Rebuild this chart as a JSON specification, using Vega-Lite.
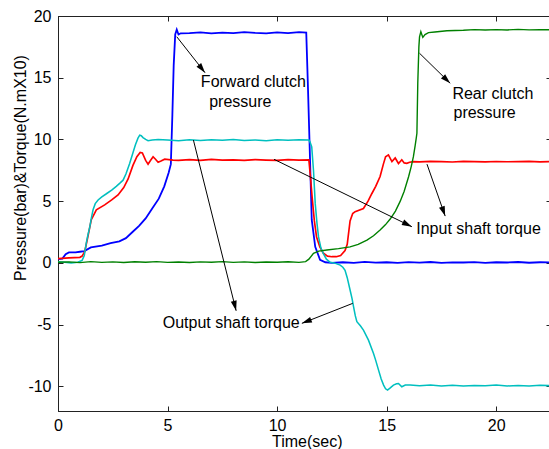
{
  "$schema": "https://vega.github.io/schema/vega-lite/v6.json",
  "width": 493,
  "height": 395,
  "autosize": "none",
  "padding": {"left": 58, "top": 16, "right": 0, "bottom": 38},
  "background": "white",
  "config": {
    "view": {"stroke": "#222", "strokeWidth": 1},
    "font": "Liberation Sans",
    "axis": {
      "grid": false,
      "domainColor": "#222",
      "tickColor": "#222",
      "domainWidth": 1,
      "tickWidth": 1,
      "tickSize": -5,
      "labelPadding": 12,
      "labelFlush": false,
      "labelFont": "Liberation Sans",
      "labelFontSize": 16,
      "labelColor": "#000",
      "labelExpr": "datum.value < 0 ? '-' + abs(datum.value) : '' + datum.value",
      "titleFont": "Liberation Sans",
      "titleFontSize": 16,
      "titleFontWeight": "normal",
      "titleColor": "#000"
    }
  },
  "datasets": {
    "curves": [
      {"s": "Forward clutch pressure", "t": 0, "v": 0.3},
      {"s": "Forward clutch pressure", "t": 0.2, "v": 0.35},
      {"s": "Forward clutch pressure", "t": 0.35, "v": 0.7},
      {"s": "Forward clutch pressure", "t": 0.5, "v": 0.85},
      {"s": "Forward clutch pressure", "t": 0.8, "v": 0.85},
      {"s": "Forward clutch pressure", "t": 1.0, "v": 0.9},
      {"s": "Forward clutch pressure", "t": 1.2, "v": 0.95},
      {"s": "Forward clutch pressure", "t": 1.5, "v": 1.25},
      {"s": "Forward clutch pressure", "t": 2.0, "v": 1.4},
      {"s": "Forward clutch pressure", "t": 2.4, "v": 1.6},
      {"s": "Forward clutch pressure", "t": 2.8, "v": 1.75},
      {"s": "Forward clutch pressure", "t": 3.1, "v": 2.0},
      {"s": "Forward clutch pressure", "t": 3.4, "v": 2.5},
      {"s": "Forward clutch pressure", "t": 3.7, "v": 3.0},
      {"s": "Forward clutch pressure", "t": 4.0, "v": 3.6},
      {"s": "Forward clutch pressure", "t": 4.3, "v": 4.4},
      {"s": "Forward clutch pressure", "t": 4.6, "v": 5.2},
      {"s": "Forward clutch pressure", "t": 4.85, "v": 6.2},
      {"s": "Forward clutch pressure", "t": 5.05, "v": 7.3},
      {"s": "Forward clutch pressure", "t": 5.15, "v": 8.0},
      {"s": "Forward clutch pressure", "t": 5.22, "v": 12},
      {"s": "Forward clutch pressure", "t": 5.28, "v": 16},
      {"s": "Forward clutch pressure", "t": 5.35, "v": 18.5},
      {"s": "Forward clutch pressure", "t": 5.42, "v": 18.9},
      {"s": "Forward clutch pressure", "t": 5.5, "v": 18.5},
      {"s": "Forward clutch pressure", "t": 5.6, "v": 18.6},
      {"s": "Forward clutch pressure", "t": 6.0, "v": 18.62},
      {"s": "Forward clutch pressure", "t": 6.5, "v": 18.68},
      {"s": "Forward clutch pressure", "t": 7.0, "v": 18.6},
      {"s": "Forward clutch pressure", "t": 7.5, "v": 18.66},
      {"s": "Forward clutch pressure", "t": 8.0, "v": 18.62},
      {"s": "Forward clutch pressure", "t": 8.5, "v": 18.7},
      {"s": "Forward clutch pressure", "t": 9.0, "v": 18.64},
      {"s": "Forward clutch pressure", "t": 9.5, "v": 18.6},
      {"s": "Forward clutch pressure", "t": 10.0, "v": 18.68},
      {"s": "Forward clutch pressure", "t": 10.5, "v": 18.62},
      {"s": "Forward clutch pressure", "t": 11.0, "v": 18.7},
      {"s": "Forward clutch pressure", "t": 11.33, "v": 18.65},
      {"s": "Forward clutch pressure", "t": 11.4, "v": 14.7},
      {"s": "Forward clutch pressure", "t": 11.5, "v": 8.5},
      {"s": "Forward clutch pressure", "t": 11.58, "v": 3.5},
      {"s": "Forward clutch pressure", "t": 11.74, "v": 1.3},
      {"s": "Forward clutch pressure", "t": 11.96, "v": 0.25},
      {"s": "Forward clutch pressure", "t": 12.2, "v": 0.05},
      {"s": "Forward clutch pressure", "t": 12.5, "v": 0.0},
      {"s": "Forward clutch pressure", "t": 13, "v": 0.05},
      {"s": "Forward clutch pressure", "t": 13.5, "v": 0.0},
      {"s": "Forward clutch pressure", "t": 14, "v": 0.08},
      {"s": "Forward clutch pressure", "t": 14.5, "v": 0.02},
      {"s": "Forward clutch pressure", "t": 15, "v": 0.05},
      {"s": "Forward clutch pressure", "t": 15.5, "v": 0.0},
      {"s": "Forward clutch pressure", "t": 16, "v": 0.06},
      {"s": "Forward clutch pressure", "t": 16.5, "v": 0.02},
      {"s": "Forward clutch pressure", "t": 17, "v": 0.07},
      {"s": "Forward clutch pressure", "t": 17.5, "v": 0.0},
      {"s": "Forward clutch pressure", "t": 18, "v": 0.04},
      {"s": "Forward clutch pressure", "t": 18.5, "v": 0.03},
      {"s": "Forward clutch pressure", "t": 19, "v": 0.06},
      {"s": "Forward clutch pressure", "t": 19.5, "v": 0.0},
      {"s": "Forward clutch pressure", "t": 20, "v": 0.05},
      {"s": "Forward clutch pressure", "t": 20.5, "v": 0.03},
      {"s": "Forward clutch pressure", "t": 21, "v": 0.07},
      {"s": "Forward clutch pressure", "t": 21.5, "v": 0.01},
      {"s": "Forward clutch pressure", "t": 22, "v": 0.05},
      {"s": "Forward clutch pressure", "t": 22.5, "v": 0.03},

      {"s": "Input shaft torque", "t": 0, "v": 0.35},
      {"s": "Input shaft torque", "t": 0.5, "v": 0.4},
      {"s": "Input shaft torque", "t": 1.0, "v": 0.45},
      {"s": "Input shaft torque", "t": 1.1, "v": 0.55},
      {"s": "Input shaft torque", "t": 1.22, "v": 0.9},
      {"s": "Input shaft torque", "t": 1.35, "v": 2.0},
      {"s": "Input shaft torque", "t": 1.52, "v": 3.5},
      {"s": "Input shaft torque", "t": 1.75, "v": 4.3},
      {"s": "Input shaft torque", "t": 2.13, "v": 4.7},
      {"s": "Input shaft torque", "t": 2.45, "v": 5.1},
      {"s": "Input shaft torque", "t": 2.74, "v": 5.5},
      {"s": "Input shaft torque", "t": 3.0, "v": 6.1},
      {"s": "Input shaft torque", "t": 3.2, "v": 6.8},
      {"s": "Input shaft torque", "t": 3.42, "v": 7.9},
      {"s": "Input shaft torque", "t": 3.6, "v": 8.6},
      {"s": "Input shaft torque", "t": 3.75, "v": 8.95},
      {"s": "Input shaft torque", "t": 3.85, "v": 8.9},
      {"s": "Input shaft torque", "t": 4.0, "v": 8.3},
      {"s": "Input shaft torque", "t": 4.11, "v": 8.0},
      {"s": "Input shaft torque", "t": 4.22, "v": 8.3},
      {"s": "Input shaft torque", "t": 4.34, "v": 8.6},
      {"s": "Input shaft torque", "t": 4.45, "v": 8.4},
      {"s": "Input shaft torque", "t": 4.57, "v": 8.15},
      {"s": "Input shaft torque", "t": 4.7, "v": 8.25},
      {"s": "Input shaft torque", "t": 4.87, "v": 8.4},
      {"s": "Input shaft torque", "t": 5.25, "v": 8.33},
      {"s": "Input shaft torque", "t": 5.5, "v": 8.3},
      {"s": "Input shaft torque", "t": 6.0, "v": 8.36},
      {"s": "Input shaft torque", "t": 6.5, "v": 8.3},
      {"s": "Input shaft torque", "t": 7.0, "v": 8.38},
      {"s": "Input shaft torque", "t": 7.5, "v": 8.32},
      {"s": "Input shaft torque", "t": 8.0, "v": 8.35},
      {"s": "Input shaft torque", "t": 8.5, "v": 8.3},
      {"s": "Input shaft torque", "t": 9.0, "v": 8.37},
      {"s": "Input shaft torque", "t": 9.5, "v": 8.33},
      {"s": "Input shaft torque", "t": 10.0, "v": 8.3},
      {"s": "Input shaft torque", "t": 10.5, "v": 8.36},
      {"s": "Input shaft torque", "t": 11.0, "v": 8.32},
      {"s": "Input shaft torque", "t": 11.45, "v": 8.35},
      {"s": "Input shaft torque", "t": 11.52, "v": 7.0},
      {"s": "Input shaft torque", "t": 11.6, "v": 5.3},
      {"s": "Input shaft torque", "t": 11.7, "v": 3.4},
      {"s": "Input shaft torque", "t": 11.8, "v": 2.1},
      {"s": "Input shaft torque", "t": 11.95, "v": 1.3},
      {"s": "Input shaft torque", "t": 12.1, "v": 0.8},
      {"s": "Input shaft torque", "t": 12.3, "v": 0.55},
      {"s": "Input shaft torque", "t": 12.5, "v": 0.5},
      {"s": "Input shaft torque", "t": 12.7, "v": 0.5},
      {"s": "Input shaft torque", "t": 12.9, "v": 0.6},
      {"s": "Input shaft torque", "t": 13.1, "v": 1.0},
      {"s": "Input shaft torque", "t": 13.2, "v": 1.5},
      {"s": "Input shaft torque", "t": 13.33, "v": 3.4},
      {"s": "Input shaft torque", "t": 13.45, "v": 4.0},
      {"s": "Input shaft torque", "t": 13.56, "v": 4.15},
      {"s": "Input shaft torque", "t": 13.94, "v": 4.4},
      {"s": "Input shaft torque", "t": 14.15, "v": 5.0},
      {"s": "Input shaft torque", "t": 14.32, "v": 5.6},
      {"s": "Input shaft torque", "t": 14.5, "v": 6.2},
      {"s": "Input shaft torque", "t": 14.7, "v": 7.0},
      {"s": "Input shaft torque", "t": 14.85, "v": 8.0},
      {"s": "Input shaft torque", "t": 14.95, "v": 8.6},
      {"s": "Input shaft torque", "t": 15.08, "v": 8.75},
      {"s": "Input shaft torque", "t": 15.24, "v": 8.2},
      {"s": "Input shaft torque", "t": 15.39, "v": 8.5},
      {"s": "Input shaft torque", "t": 15.54, "v": 8.05},
      {"s": "Input shaft torque", "t": 15.69, "v": 8.35},
      {"s": "Input shaft torque", "t": 15.8, "v": 8.1},
      {"s": "Input shaft torque", "t": 15.92, "v": 8.06},
      {"s": "Input shaft torque", "t": 16.05, "v": 8.15},
      {"s": "Input shaft torque", "t": 16.22, "v": 8.2},
      {"s": "Input shaft torque", "t": 16.5, "v": 8.18},
      {"s": "Input shaft torque", "t": 17, "v": 8.22},
      {"s": "Input shaft torque", "t": 17.5, "v": 8.2},
      {"s": "Input shaft torque", "t": 18, "v": 8.17},
      {"s": "Input shaft torque", "t": 18.5, "v": 8.22},
      {"s": "Input shaft torque", "t": 19, "v": 8.2},
      {"s": "Input shaft torque", "t": 19.5, "v": 8.18},
      {"s": "Input shaft torque", "t": 20, "v": 8.21},
      {"s": "Input shaft torque", "t": 20.5, "v": 8.19},
      {"s": "Input shaft torque", "t": 21, "v": 8.2},
      {"s": "Input shaft torque", "t": 21.5, "v": 8.22},
      {"s": "Input shaft torque", "t": 22, "v": 8.18},
      {"s": "Input shaft torque", "t": 22.5, "v": 8.2},

      {"s": "Output shaft torque", "t": 0, "v": 0.1},
      {"s": "Output shaft torque", "t": 0.3, "v": 0.05},
      {"s": "Output shaft torque", "t": 0.6, "v": 0.0},
      {"s": "Output shaft torque", "t": 0.9, "v": 0.05},
      {"s": "Output shaft torque", "t": 1.1, "v": 0.2},
      {"s": "Output shaft torque", "t": 1.2, "v": 0.6},
      {"s": "Output shaft torque", "t": 1.29, "v": 1.6},
      {"s": "Output shaft torque", "t": 1.37, "v": 2.3},
      {"s": "Output shaft torque", "t": 1.45, "v": 2.9},
      {"s": "Output shaft torque", "t": 1.52, "v": 3.6},
      {"s": "Output shaft torque", "t": 1.6, "v": 4.3},
      {"s": "Output shaft torque", "t": 1.7, "v": 4.8},
      {"s": "Output shaft torque", "t": 1.83, "v": 5.1},
      {"s": "Output shaft torque", "t": 2.0, "v": 5.35},
      {"s": "Output shaft torque", "t": 2.21, "v": 5.6},
      {"s": "Output shaft torque", "t": 2.45, "v": 5.9},
      {"s": "Output shaft torque", "t": 2.66, "v": 6.2},
      {"s": "Output shaft torque", "t": 2.85, "v": 6.5},
      {"s": "Output shaft torque", "t": 2.97, "v": 6.7},
      {"s": "Output shaft torque", "t": 3.1, "v": 7.2},
      {"s": "Output shaft torque", "t": 3.27, "v": 8.05},
      {"s": "Output shaft torque", "t": 3.4, "v": 8.8},
      {"s": "Output shaft torque", "t": 3.53, "v": 9.55},
      {"s": "Output shaft torque", "t": 3.65, "v": 10.1},
      {"s": "Output shaft torque", "t": 3.73, "v": 10.35},
      {"s": "Output shaft torque", "t": 3.8, "v": 10.3},
      {"s": "Output shaft torque", "t": 3.88, "v": 10.15},
      {"s": "Output shaft torque", "t": 4.0, "v": 10.0},
      {"s": "Output shaft torque", "t": 4.11, "v": 9.9},
      {"s": "Output shaft torque", "t": 4.3, "v": 9.95},
      {"s": "Output shaft torque", "t": 4.57, "v": 10.0},
      {"s": "Output shaft torque", "t": 5.0, "v": 9.95},
      {"s": "Output shaft torque", "t": 5.5, "v": 9.9},
      {"s": "Output shaft torque", "t": 6.0, "v": 9.98},
      {"s": "Output shaft torque", "t": 6.5, "v": 9.92},
      {"s": "Output shaft torque", "t": 7.0, "v": 9.97},
      {"s": "Output shaft torque", "t": 7.5, "v": 9.93},
      {"s": "Output shaft torque", "t": 8.0, "v": 9.99},
      {"s": "Output shaft torque", "t": 8.5, "v": 9.92},
      {"s": "Output shaft torque", "t": 9.0, "v": 9.96},
      {"s": "Output shaft torque", "t": 9.5, "v": 9.9},
      {"s": "Output shaft torque", "t": 10.0, "v": 9.97},
      {"s": "Output shaft torque", "t": 10.5, "v": 9.94},
      {"s": "Output shaft torque", "t": 11.0, "v": 9.98},
      {"s": "Output shaft torque", "t": 11.45, "v": 9.95},
      {"s": "Output shaft torque", "t": 11.5, "v": 9.8},
      {"s": "Output shaft torque", "t": 11.58, "v": 9.4},
      {"s": "Output shaft torque", "t": 11.66, "v": 7.5},
      {"s": "Output shaft torque", "t": 11.74, "v": 4.8},
      {"s": "Output shaft torque", "t": 11.82, "v": 3.2},
      {"s": "Output shaft torque", "t": 11.89, "v": 2.1},
      {"s": "Output shaft torque", "t": 12.0, "v": 1.2},
      {"s": "Output shaft torque", "t": 12.11, "v": 0.75},
      {"s": "Output shaft torque", "t": 12.25, "v": 0.3},
      {"s": "Output shaft torque", "t": 12.42, "v": 0.05},
      {"s": "Output shaft torque", "t": 12.6, "v": 0.0},
      {"s": "Output shaft torque", "t": 12.88, "v": -0.18},
      {"s": "Output shaft torque", "t": 13.0, "v": -0.35},
      {"s": "Output shaft torque", "t": 13.1, "v": -0.6},
      {"s": "Output shaft torque", "t": 13.2, "v": -1.2},
      {"s": "Output shaft torque", "t": 13.33, "v": -2.2},
      {"s": "Output shaft torque", "t": 13.42, "v": -2.9},
      {"s": "Output shaft torque", "t": 13.49, "v": -3.56},
      {"s": "Output shaft torque", "t": 13.57, "v": -4.3},
      {"s": "Output shaft torque", "t": 13.64, "v": -4.77},
      {"s": "Output shaft torque", "t": 13.8, "v": -5.1},
      {"s": "Output shaft torque", "t": 13.94, "v": -5.45},
      {"s": "Output shaft torque", "t": 14.17, "v": -6.26},
      {"s": "Output shaft torque", "t": 14.4, "v": -7.34},
      {"s": "Output shaft torque", "t": 14.5, "v": -7.9},
      {"s": "Output shaft torque", "t": 14.63, "v": -8.69},
      {"s": "Output shaft torque", "t": 14.75, "v": -9.4},
      {"s": "Output shaft torque", "t": 14.86, "v": -9.9},
      {"s": "Output shaft torque", "t": 14.95, "v": -10.2},
      {"s": "Output shaft torque", "t": 15.04, "v": -10.3},
      {"s": "Output shaft torque", "t": 15.15, "v": -10.15},
      {"s": "Output shaft torque", "t": 15.31, "v": -9.9},
      {"s": "Output shaft torque", "t": 15.45, "v": -9.8},
      {"s": "Output shaft torque", "t": 15.54, "v": -9.77},
      {"s": "Output shaft torque", "t": 15.69, "v": -10.04},
      {"s": "Output shaft torque", "t": 15.85, "v": -9.9},
      {"s": "Output shaft torque", "t": 16.07, "v": -9.9},
      {"s": "Output shaft torque", "t": 16.5, "v": -9.95},
      {"s": "Output shaft torque", "t": 17, "v": -9.9},
      {"s": "Output shaft torque", "t": 17.5, "v": -9.98},
      {"s": "Output shaft torque", "t": 18, "v": -9.92},
      {"s": "Output shaft torque", "t": 18.5, "v": -9.97},
      {"s": "Output shaft torque", "t": 19, "v": -9.93},
      {"s": "Output shaft torque", "t": 19.5, "v": -9.96},
      {"s": "Output shaft torque", "t": 20, "v": -9.9},
      {"s": "Output shaft torque", "t": 20.5, "v": -9.97},
      {"s": "Output shaft torque", "t": 21, "v": -9.93},
      {"s": "Output shaft torque", "t": 21.5, "v": -9.98},
      {"s": "Output shaft torque", "t": 22, "v": -9.92},
      {"s": "Output shaft torque", "t": 22.5, "v": -9.95},

      {"s": "Rear clutch pressure", "t": 0, "v": 0.05},
      {"s": "Rear clutch pressure", "t": 0.5, "v": 0.08},
      {"s": "Rear clutch pressure", "t": 1, "v": 0.02},
      {"s": "Rear clutch pressure", "t": 1.5, "v": 0.1},
      {"s": "Rear clutch pressure", "t": 2, "v": 0.04},
      {"s": "Rear clutch pressure", "t": 2.5, "v": 0.08},
      {"s": "Rear clutch pressure", "t": 3, "v": 0.03},
      {"s": "Rear clutch pressure", "t": 3.5, "v": 0.09},
      {"s": "Rear clutch pressure", "t": 4, "v": 0.05},
      {"s": "Rear clutch pressure", "t": 4.5, "v": 0.1},
      {"s": "Rear clutch pressure", "t": 5, "v": 0.04},
      {"s": "Rear clutch pressure", "t": 5.5, "v": 0.07},
      {"s": "Rear clutch pressure", "t": 6, "v": 0.03},
      {"s": "Rear clutch pressure", "t": 6.5, "v": 0.08},
      {"s": "Rear clutch pressure", "t": 7, "v": 0.05},
      {"s": "Rear clutch pressure", "t": 7.5, "v": 0.1},
      {"s": "Rear clutch pressure", "t": 8, "v": 0.04},
      {"s": "Rear clutch pressure", "t": 8.5, "v": 0.08},
      {"s": "Rear clutch pressure", "t": 9, "v": 0.03},
      {"s": "Rear clutch pressure", "t": 9.5, "v": 0.07},
      {"s": "Rear clutch pressure", "t": 10, "v": 0.05},
      {"s": "Rear clutch pressure", "t": 10.5, "v": 0.09},
      {"s": "Rear clutch pressure", "t": 11, "v": 0.04},
      {"s": "Rear clutch pressure", "t": 11.3, "v": 0.1},
      {"s": "Rear clutch pressure", "t": 11.45, "v": 0.3},
      {"s": "Rear clutch pressure", "t": 11.66, "v": 0.77},
      {"s": "Rear clutch pressure", "t": 11.9, "v": 0.95},
      {"s": "Rear clutch pressure", "t": 12.27, "v": 1.04},
      {"s": "Rear clutch pressure", "t": 12.8, "v": 1.15},
      {"s": "Rear clutch pressure", "t": 13.33, "v": 1.3},
      {"s": "Rear clutch pressure", "t": 13.7, "v": 1.5},
      {"s": "Rear clutch pressure", "t": 14.1, "v": 1.85},
      {"s": "Rear clutch pressure", "t": 14.4, "v": 2.2},
      {"s": "Rear clutch pressure", "t": 14.7, "v": 2.66},
      {"s": "Rear clutch pressure", "t": 14.95, "v": 3.1},
      {"s": "Rear clutch pressure", "t": 15.16, "v": 3.55},
      {"s": "Rear clutch pressure", "t": 15.4, "v": 4.2},
      {"s": "Rear clutch pressure", "t": 15.62, "v": 5.0},
      {"s": "Rear clutch pressure", "t": 15.8, "v": 5.8},
      {"s": "Rear clutch pressure", "t": 16.0, "v": 6.98},
      {"s": "Rear clutch pressure", "t": 16.12, "v": 7.8},
      {"s": "Rear clutch pressure", "t": 16.22, "v": 8.6},
      {"s": "Rear clutch pressure", "t": 16.3, "v": 9.5},
      {"s": "Rear clutch pressure", "t": 16.35, "v": 10.1},
      {"s": "Rear clutch pressure", "t": 16.38, "v": 10.5},
      {"s": "Rear clutch pressure", "t": 16.42, "v": 14.55},
      {"s": "Rear clutch pressure", "t": 16.47, "v": 17.5},
      {"s": "Rear clutch pressure", "t": 16.5, "v": 18.32},
      {"s": "Rear clutch pressure", "t": 16.56, "v": 18.73},
      {"s": "Rear clutch pressure", "t": 16.65, "v": 18.27},
      {"s": "Rear clutch pressure", "t": 16.75, "v": 18.5},
      {"s": "Rear clutch pressure", "t": 16.91, "v": 18.65},
      {"s": "Rear clutch pressure", "t": 17.2, "v": 18.7},
      {"s": "Rear clutch pressure", "t": 17.75, "v": 18.81},
      {"s": "Rear clutch pressure", "t": 18.5, "v": 18.85},
      {"s": "Rear clutch pressure", "t": 19, "v": 18.9},
      {"s": "Rear clutch pressure", "t": 19.5, "v": 18.86},
      {"s": "Rear clutch pressure", "t": 20, "v": 18.9},
      {"s": "Rear clutch pressure", "t": 20.5, "v": 18.87},
      {"s": "Rear clutch pressure", "t": 21, "v": 18.92},
      {"s": "Rear clutch pressure", "t": 21.5, "v": 18.88},
      {"s": "Rear clutch pressure", "t": 22, "v": 18.9},
      {"s": "Rear clutch pressure", "t": 22.5, "v": 18.88}
    ],
    "arrows": [
      {"x": 5.42, "y": 18.32, "x2": 6.71, "y2": 15.41},
      {"x": 16.5, "y": 16.98, "x2": 17.9, "y2": 14.55},
      {"x": 9.86, "y": 8.39, "x2": 16.15, "y2": 2.93},
      {"x": 16.84, "y": 8.0, "x2": 17.67, "y2": 3.79},
      {"x": 6.18, "y": 9.95, "x2": 8.13, "y2": -3.88},
      {"x": 13.45, "y": -3.28, "x2": 11.13, "y2": -4.9}
    ],
    "notes": [
      {"x": 6.52, "y": 14.68, "label": "Forward clutch"},
      {"x": 6.9, "y": 13.05, "label": "pressure"},
      {"x": 18.0, "y": 13.65, "label": "Rear clutch"},
      {"x": 18.05, "y": 12.12, "label": "pressure"},
      {"x": 16.35, "y": 2.71, "label": "Input shaft torque"},
      {"x": 4.78, "y": -4.9, "label": "Output shaft torque"}
    ]
  },
  "layer": [
    {
      "data": {"name": "curves"},
      "mark": {"type": "line", "clip": true},
      "encoding": {
        "x": {
          "field": "t", "type": "quantitative",
          "scale": {"domain": [0, 22.5], "nice": false, "zero": false},
          "axis": {
            "orient": "bottom", "values": [0, 5, 10, 15, 20],
            "labelPadding": 11,
            "title": "Time(sec)", "titleX": 248.7, "titleY": 35,
            "titleAlign": "center", "titleBaseline": "alphabetic"
          }
        },
        "y": {
          "field": "v", "type": "quantitative",
          "scale": {"domain": [-12, 20], "nice": false, "zero": false},
          "axis": {
            "orient": "left", "values": [-10, -5, 0, 5, 10, 15, 20],
            "title": "Pressure(bar)&Torque(N.mX10)",
            "titleX": -33, "titleY": 151.5, "titleAngle": -90,
            "titleAlign": "center", "titleBaseline": "alphabetic"
          }
        },
        "color": {
          "field": "s", "type": "nominal",
          "scale": {
            "domain": ["Rear clutch pressure", "Output shaft torque", "Input shaft torque", "Forward clutch pressure"],
            "range": ["#008000", "#00bfbf", "#ff0000", "#0000ff"]
          },
          "legend": null
        },
        "strokeWidth": {
          "field": "s", "type": "nominal",
          "scale": {
            "domain": ["Rear clutch pressure", "Output shaft torque", "Input shaft torque", "Forward clutch pressure"],
            "range": [1.4, 1.8, 1, 1.4]
          },
          "legend": null
        },
        "order": {"field": "t", "type": "quantitative"}
      }
    },
    {
      "data": {"name": "arrows"},
      "mark": {"type": "rule", "color": "#000", "strokeWidth": 1},
      "encoding": {
        "x": {
          "field": "x", "type": "quantitative",
          "scale": {"domain": [0, 22.5], "nice": false, "zero": false},
          "axis": {"orient": "top", "values": [0, 5, 10, 15, 20], "labels": false, "title": null}
        },
        "y": {
          "field": "y", "type": "quantitative",
          "scale": {"domain": [-12, 20], "nice": false, "zero": false},
          "axis": {"orient": "right", "values": [-10, -5, 0, 5, 10, 15, 20], "labels": false, "title": null}
        },
        "x2": {"field": "x2"},
        "y2": {"field": "y2"}
      }
    },
    {
      "data": {"name": "arrows"},
      "transform": [
        {"calculate": "atan2((datum.x2 - datum.x) * 21.91, (datum.y2 - datum.y) * 12.344) * 180 / PI", "as": "ang"}
      ],
      "mark": {"type": "point", "shape": "M0,0L-0.6,2L0.6,2Z", "filled": true, "color": "#000", "size": 100, "opacity": 1},
      "encoding": {
        "x": {"field": "x2", "type": "quantitative", "scale": {"domain": [0, 22.5], "nice": false, "zero": false}, "axis": null},
        "y": {"field": "y2", "type": "quantitative", "scale": {"domain": [-12, 20], "nice": false, "zero": false}, "axis": null},
        "angle": {"field": "ang", "type": "quantitative", "scale": null}
      }
    },
    {
      "data": {"name": "notes"},
      "mark": {"type": "text", "align": "left", "baseline": "middle", "font": "Liberation Sans", "fontSize": 16, "color": "#000"},
      "encoding": {
        "x": {"field": "x", "type": "quantitative", "scale": {"domain": [0, 22.5], "nice": false, "zero": false}, "axis": null},
        "y": {"field": "y", "type": "quantitative", "scale": {"domain": [-12, 20], "nice": false, "zero": false}, "axis": null},
        "text": {"field": "label"}
      }
    }
  ],
  "resolve": {"axis": {"x": "independent", "y": "independent"}}
}
